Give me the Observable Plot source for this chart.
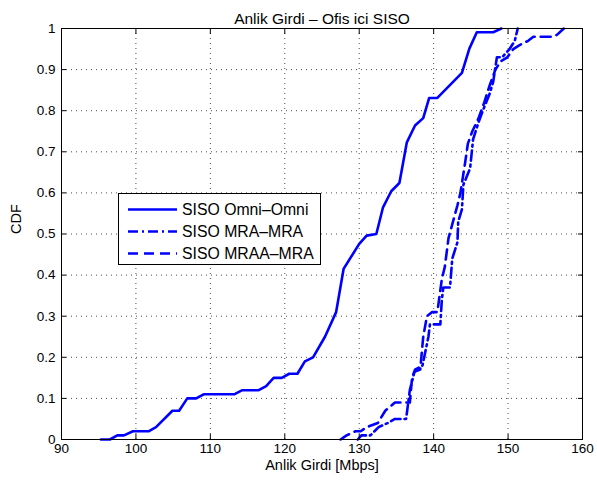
<!DOCTYPE html>
<html><head><meta charset="utf-8">
<script src="https://cdn.jsdelivr.net/npm/d3@7"></script>
<script src="https://cdn.jsdelivr.net/npm/@observablehq/plot@0.6"></script>
<style>
body{margin:0;background:#fff;}
svg{font-family:"Liberation Sans",Arial,Helvetica,sans-serif;}
</style>
</head><body><div id="chart"></div>
<script>
const titleText = "Anlik Girdi – Ofis ici SISO";
const xLabel = "Anlik Girdi [Mbps]";
const yLabel = "CDF";
const seriesNames = ["SISO Omni–Omni", "SISO MRA–MRA", "SISO MRAA–MRA"];
const xTicks = [90, 100, 110, 120, 130, 140, 150, 160];
const yTicks = [0, 0.1, 0.2, 0.3, 0.4, 0.5, 0.6, 0.7, 0.8, 0.9, 1];

const omniX = [95.3, 96.5, 97.5, 98.4, 99.6, 101.7, 102.7, 104.9, 105.8, 106.9, 108.1, 109.1, 113.2, 114.3, 116.5, 117.5, 118.5, 119.6, 120.6, 121.7, 122.7, 123.8, 125.4, 126.9, 127.9, 130.0, 131.0, 132.3, 133.2, 134.3, 135.4, 136.4, 137.5, 138.6, 139.4, 140.5, 143.8, 144.8, 145.8, 148.0, 149.1];
const omniY = [0, 0, 0.01, 0.01, 0.02, 0.02, 0.03, 0.07, 0.07, 0.10, 0.10, 0.11, 0.11, 0.12, 0.12, 0.13, 0.15, 0.15, 0.16, 0.16, 0.19, 0.20, 0.25, 0.31, 0.415, 0.476, 0.496, 0.50, 0.565, 0.604, 0.624, 0.723, 0.764, 0.782, 0.831, 0.831, 0.892, 0.951, 0.991, 0.991, 1.0];

const mraX = [129.8, 130.3, 131.5, 132.6, 133.8, 134.8, 136.3, 136.8, 137.5, 138.5, 139.3, 139.5, 140.9, 141.1, 141.3, 142.2, 142.5, 143.2, 143.3, 143.8, 144.0, 144.9, 145.3, 146.0, 146.6, 147.5, 148.0, 148.5, 149.2, 150.2, 150.9, 151.3];
const mraY = [0, 0.01, 0.01, 0.03, 0.04, 0.05, 0.05, 0.12, 0.17, 0.18, 0.25, 0.28, 0.28, 0.34, 0.37, 0.37, 0.44, 0.48, 0.53, 0.56, 0.62, 0.66, 0.73, 0.77, 0.80, 0.84, 0.87, 0.93, 0.93, 0.95, 0.97, 1.0];

const mraaX = [127.5, 128.3, 129.5, 130.2, 131.0, 132.5, 133.5, 134.8, 136.8, 137.1, 137.4, 138.2, 138.6, 139.1, 139.8, 140.5, 141.1, 141.5, 142.0, 142.6, 143.2, 143.6, 144.2, 144.6, 145.2, 146.0, 146.8, 147.5, 148.3, 149.0, 149.9, 150.7, 151.6, 152.7, 153.4, 156.0, 156.6, 157.5];
const mraaY = [0, 0.01, 0.02, 0.02, 0.03, 0.04, 0.07, 0.09, 0.09, 0.15, 0.165, 0.17, 0.25, 0.30, 0.31, 0.31, 0.39, 0.42, 0.49, 0.53, 0.57, 0.60, 0.67, 0.72, 0.75, 0.78, 0.82, 0.86, 0.90, 0.92, 0.93, 0.95, 0.96, 0.97, 0.98, 0.98, 0.985, 1.0];

const blue = "#0000ff";
const styles = [
  {dash: null},
  {dash: "10,4,2,4"},
  {dash: "10,6"}
];

const rows = (xs, ys) => xs.map((x, i) => ({x, y: ys[i]}));
const series = [rows(omniX, omniY), rows(mraX, mraY), rows(mraaX, mraaY)];

const yFmt = d => String(+d.toFixed(1));
const tickStyle = {stroke: "#000", strokeWidth: 1};

const plot = Plot.plot({
  width: 597, height: 491,
  marginLeft: 61, marginRight: 15, marginTop: 28, marginBottom: 52,
  style: {background: "#fff", color: "#000", fontSize: "13.5px", fontFamily: '"Liberation Sans",Arial,sans-serif'},
  x: {domain: [90, 160], label: null},
  y: {domain: [0, 1], label: null},
  marks: [
    Plot.gridX(xTicks, {stroke: "#000", strokeOpacity: 0.7, strokeDasharray: "1,4"}),
    Plot.gridY(yTicks, {stroke: "#000", strokeOpacity: 0.7, strokeDasharray: "1,4"}),
    ...series.map((d, i) => Plot.line(d, {x: "x", y: "y", stroke: blue, strokeWidth: 2.6, strokeDasharray: styles[i].dash, strokeLinejoin: "round"})),
    Plot.frame({stroke: "#000", strokeWidth: 1}),
    Plot.axisX(xTicks, {anchor: "bottom", tickSize: 0, tickPadding: 4, fontSize: 13.5, ...tickStyle}),
    Plot.axisX(xTicks, {anchor: "bottom", tickSize: -5, tickFormat: () => "", ...tickStyle}),
    Plot.axisX(xTicks, {anchor: "top", tickSize: -5, tickFormat: () => "", ...tickStyle}),
    Plot.axisY(yTicks, {anchor: "left", tickSize: 0, tickPadding: 6, fontSize: 13.5, tickFormat: yFmt, ...tickStyle}),
    Plot.axisY(yTicks, {anchor: "left", tickSize: -5, tickFormat: () => "", ...tickStyle}),
    Plot.axisY(yTicks, {anchor: "right", tickSize: -5, tickFormat: () => "", ...tickStyle}),
    Plot.text([titleText], {frameAnchor: "top", dy: -16, fontSize: 15.5, fill: "#000"}),
    Plot.text([xLabel], {frameAnchor: "bottom", dy: 30, fontSize: 14.5, fill: "#000"}),
    Plot.text([yLabel], {frameAnchor: "left", dx: -45, rotate: -90, fontSize: 14.5, fill: "#000"})
  ]
});

// legend
const svg = d3.select(plot);
const lg = svg.append("g").attr("text-anchor", "start");
lg.append("rect").attr("x", 118.5).attr("y", 193.5).attr("width", 202).attr("height", 71)
  .attr("fill", "#fff").attr("stroke", "#000").attr("stroke-width", 1);
seriesNames.forEach((name, i) => {
  const cy = 209.5 + i * 22;
  lg.append("line").attr("x1", 128).attr("x2", 177).attr("y1", cy).attr("y2", cy)
    .attr("stroke", blue).attr("stroke-width", 2.6)
    .attr("stroke-dasharray", styles[i].dash);
  lg.append("text").attr("x", 182).attr("y", cy).attr("dy", "0.35em")
    .attr("text-anchor", "start")
    .attr("font-size", 15.8).attr("fill", "#000").text(name);
});

document.getElementById("chart").appendChild(plot);
</script>
</body></html>
